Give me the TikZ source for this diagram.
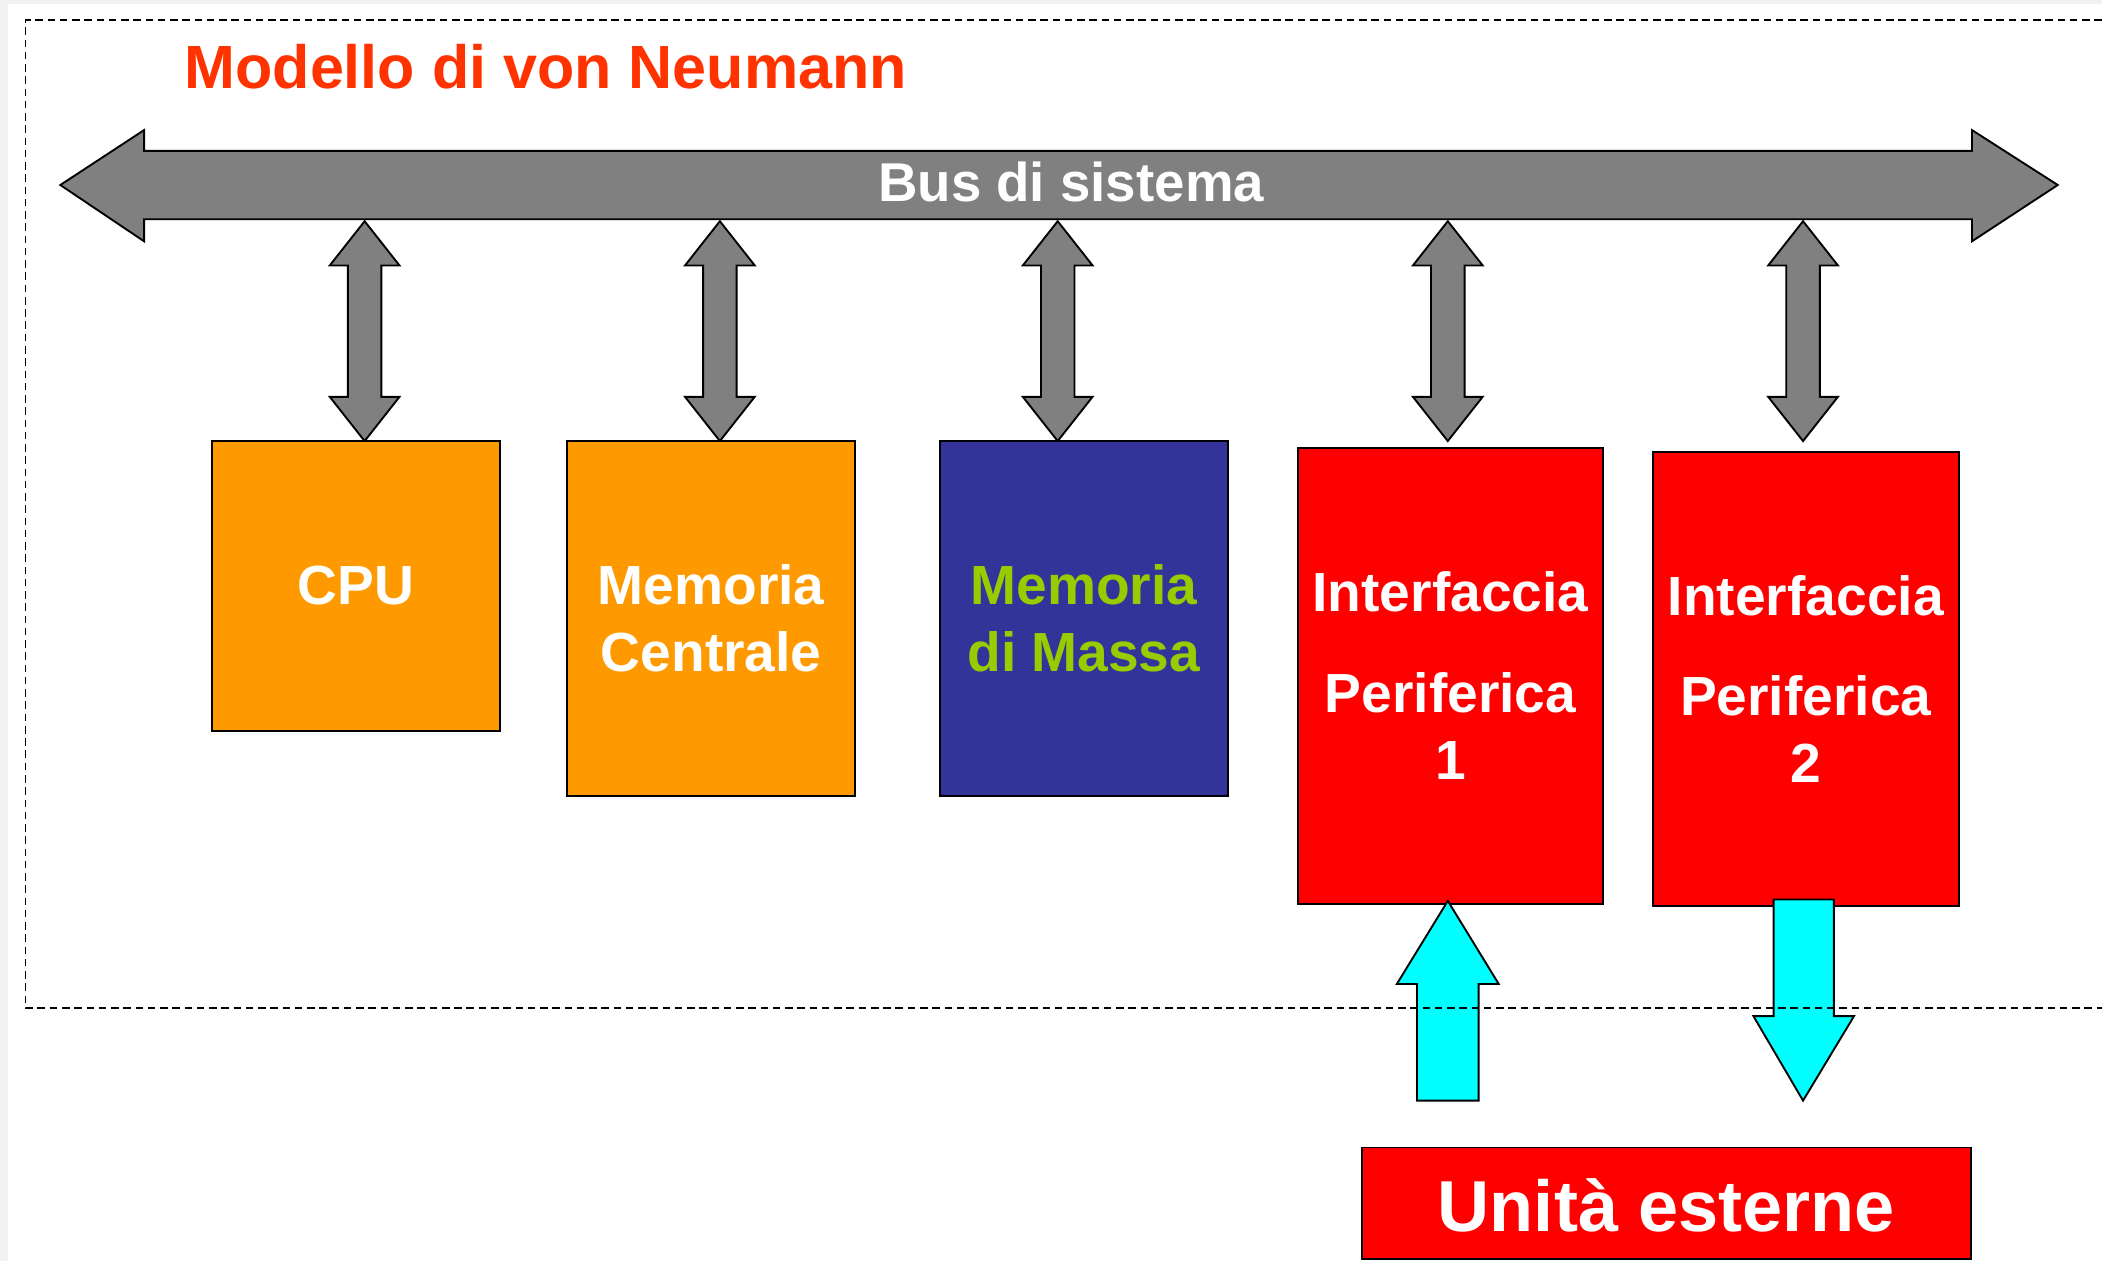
\documentclass[tikz,border=0pt]{standalone}
\usepackage{fontspec}
\setmainfont{Liberation Sans}
\definecolor{pagegray}{HTML}{F2F2F2}
\definecolor{titlered}{HTML}{FF3300}
\definecolor{busgray}{HTML}{808080}
\definecolor{cpuorange}{HTML}{FF9900}
\definecolor{massblue}{HTML}{333399}
\definecolor{massgreen}{HTML}{99CC00}
\definecolor{perred}{HTML}{FF0000}
\definecolor{iocyan}{HTML}{00FFFF}

\begin{document}
\begin{tikzpicture}[x=0.01cm, y=-0.01cm,
    unit/.style={draw, line width=0.4pt, text=white, align=center, inner sep=0pt,
      font=\fontsize{11.7}{14.2}\selectfont\bfseries},
    link/.style={draw, fill=busgray, line width=0.4pt},
    io/.style={draw, fill=iocyan, line width=0.4pt}]
    \fill[pagegray] (0,0) rectangle (1568,941);
    \fill[white] (6,3) rectangle (1568,941);
    \useasboundingbox (0,0) rectangle (1568,941);

    \node[anchor=base west, inner sep=0pt, text=titlered, font=\fontsize{12.95}{15}\selectfont\bfseries] (title) at (137,66) {Modello di von Neumann};

    \draw[link] (45,138) -- (107.5,97) -- (107.5,112.5) -- (1471,112.5) -- (1471,97) -- (1535,138)
        -- (1471,180) -- (1471,163.5) -- (107.5,163.5) -- (107.5,180) -- cycle;
    \node[anchor=base, text=white, font=\fontsize{11.6}{14}\selectfont\bfseries] (bus) at (799,150) {Bus di sistema};

    \foreach \x in {272,537,789,1080,1345}
        \draw[link] (\x,165) -- (\x+26,198) -- (\x+12.5,198) -- (\x+12.5,296) -- (\x+26,296) -- (\x,329)
            -- (\x-26,296) -- (\x-12.5,296) -- (\x-12.5,198) -- (\x-26,198) -- cycle;

    \node[unit, fill=cpuorange, minimum width=2.15cm, minimum height=2.16cm] (cpu) at (265.5,437) {CPU};
    \node[unit, fill=cpuorange, minimum width=2.15cm, minimum height=2.65cm] (memc) at (530.5,461.5) {Memoria\\Centrale};
    \node[unit, fill=massblue, text=massgreen, minimum width=2.15cm, minimum height=2.65cm] (mass) at (808.5,461.5) {Memoria\\di Massa};
    \node[unit, fill=perred, minimum width=2.28cm, minimum height=3.40cm] (per1) at (1082,504) {Interfaccia\\[0.25cm]Periferica\\1};
    \node[unit, fill=perred, minimum width=2.28cm, minimum height=3.39cm] (per2) at (1347,506.5) {Interfaccia\\[0.25cm]Periferica\\2};
    \node[unit, fill=perred, minimum width=4.54cm, minimum height=0.83cm] (ext) at (1243,897.5) {};
    \node[anchor=base, text=white, font=\fontsize{15.3}{18}\selectfont\bfseries] (extlabel) at (1243,919) {Unità esterne};

    \draw[io] (1080,672) -- (1118,734) -- (1103,734) -- (1103,821) -- (1057,821) -- (1057,734) -- (1042,734) -- cycle;
    \draw[io] (1323,671) -- (1368,671) -- (1368,758) -- (1383,758) -- (1345,821) -- (1308,758) -- (1323,758) -- cycle;

    \draw[line width=0.4pt, dash pattern=on 1.6pt off 1pt] (1568,15) -- (19,15) -- (19,752) -- (1568,752);
\end{tikzpicture}
\end{document}
